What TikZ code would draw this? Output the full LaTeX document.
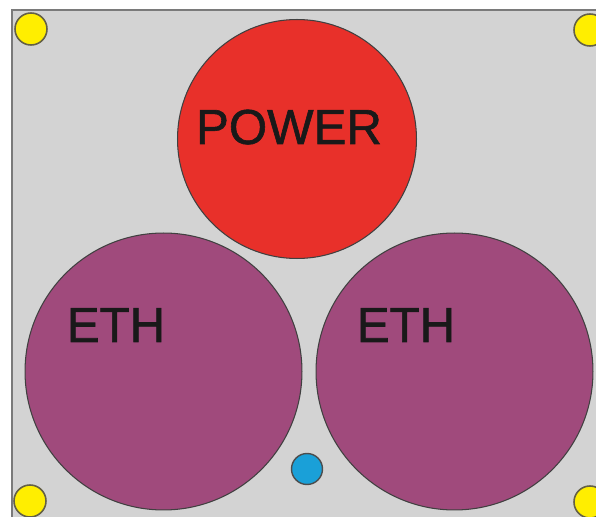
\documentclass[tikz,border=0pt]{standalone}
\usepackage{fontspec}
\setmainfont{Liberation Sans}
\newfontfamily\lblfont[FakeBold=1.2]{Liberation Sans}
\definecolor{panelgray}{HTML}{D3D3D3}
\definecolor{bordergray}{HTML}{7A7A7A}
\definecolor{powerred}{HTML}{E8302A}
\definecolor{ethpurple}{HTML}{A04A7C}
\definecolor{ledyellow}{HTML}{FFEE00}
\definecolor{ledblue}{HTML}{1AA0D8}
\tikzset{
  port/.style={circle, draw=black!75, line width=0.6pt, inner sep=0pt},
  hole/.style={circle, draw=black!70!yellow, line width=0.9pt, fill=ledyellow, inner sep=0pt, minimum size=0.64cm},
  lbl/.style={font=\lblfont\fontsize{28}{30}\selectfont, text=black!90, anchor=base, inner sep=0pt},
}
\begin{document}
\begin{tikzpicture}[x=0.02cm,y=-0.02cm]
\useasboundingbox (0,0) rectangle (596,517);
\fill[white] (0,0) rectangle (596,517);
\draw[bordergray, line width=1.1pt, fill=panelgray] (12,10) rectangle (610,530);
\node[hole] (h1) at (31,29) {};
\node[hole] (h2) at (590,30) {};
\node[hole] (h3) at (30,501) {};
\node[hole] (h4) at (590,502) {};
\node[port, fill=powerred, minimum size=4.78cm] (power) at (297,139) {};
\node[port, fill=ethpurple, minimum size=5.54cm] (eth1) at (163.5,371.5) {};
\node[port, fill=ethpurple, minimum size=5.54cm] (eth2) at (454.5,371.5) {};
\node[circle, draw=black!70, line width=0.8pt, fill=ledblue, inner sep=0pt, minimum size=0.62cm] (led) at (307,469) {};
\node[lbl] (tpower) at (289,144) {POWER};
\node[lbl] (teth1) at (116,342) {ETH};
\node[lbl] (teth2) at (406,342) {ETH};
\end{tikzpicture}
\end{document}
